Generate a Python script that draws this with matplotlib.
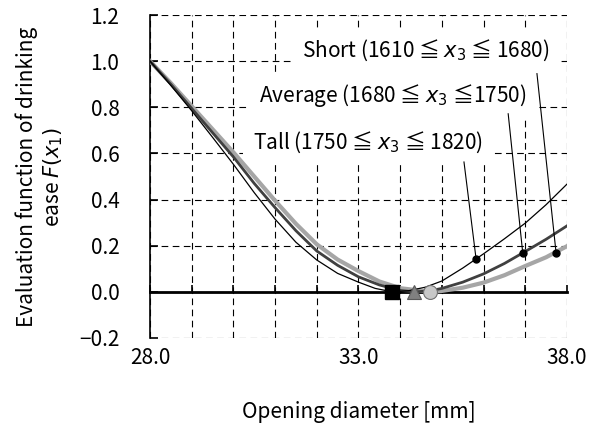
import numpy as np
import matplotlib
matplotlib.use("Agg")
import matplotlib.pyplot as plt
from matplotlib.ticker import MultipleLocator, FixedLocator, FuncFormatter

plt.rcParams['font.family'] = ['Noto Sans CJK JP', 'DejaVu Sans']

# curves (opening diameter [mm] -> F(x1))
x_tall = [28.0, 28.5, 29.0, 29.5, 30.0, 30.5, 31.0, 31.5, 32.0, 32.5, 33.0, 33.4, 33.81,
          34.2, 34.6, 35.0, 35.5, 36.0, 36.5, 37.0, 37.5, 38.0]
f_tall = [1.0, 0.895, 0.785, 0.67, 0.553, 0.43, 0.315, 0.215, 0.138, 0.08, 0.042, 0.015, 0.0,
          0.005, 0.02, 0.047, 0.103, 0.165, 0.23, 0.298, 0.378, 0.467]

x_avg = [28.0, 28.5, 29.0, 29.5, 30.0, 30.5, 31.0, 31.5, 32.0, 32.5, 33.0, 33.5, 34.0, 34.34,
         34.7, 35.0, 35.5, 36.0, 36.5, 37.0, 37.5, 38.0]
f_avg = [1.0, 0.90, 0.795, 0.69, 0.585, 0.47, 0.365, 0.265, 0.177, 0.115, 0.065, 0.03, 0.006, 0.0,
         0.004, 0.015, 0.042, 0.078, 0.123, 0.175, 0.228, 0.286]

x_short = [28.0, 28.5, 29.0, 29.5, 30.0, 30.5, 31.0, 31.5, 32.0, 32.5, 33.0, 33.5, 34.0, 34.72,
           35.0, 35.5, 36.0, 36.5, 37.0, 37.5, 38.0]
f_short = [1.0, 0.905, 0.805, 0.705, 0.605, 0.5, 0.395, 0.295, 0.206, 0.14, 0.09, 0.045, 0.016, 0.0,
           0.004, 0.018, 0.04, 0.072, 0.112, 0.15, 0.198]

# optimum diameters (markers on the axis)
opt_tall, opt_avg, opt_short = 33.81, 34.34, 34.72

# points the labels point to
dot_x = [35.82, 36.94, 37.74]
dot_y = [0.143, 0.167, 0.167]

labels = ["Tall (1750 ≦ $x_3$ ≦ 1820)",
          "Average (1680 ≦ $x_3$ ≦1750)",
          "Short (1610 ≦ $x_3$ ≦ 1680)"]
label_pos = [(30.47, 0.65), (30.61, 0.85), (31.64, 1.046)]
leader_start = [(35.53, 0.563), (36.59, 0.772), (37.28, 0.946)]

x_ticks = [28, 33, 38]

fig = plt.figure(figsize=(5.96, 4.30), dpi=100)
ax = fig.add_axes([0.2517, 0.214, 0.6996, 0.751])

ax.plot(x_short, f_short, color="#a6a6a6", lw=3.0, zorder=3)
ax.plot(x_avg, f_avg, color="#404040", lw=2.0, zorder=4)
ax.plot(x_tall, f_tall, color="black", lw=0.9, zorder=5)

ax.plot([opt_tall], [0], marker="s", ms=10, color="black", zorder=7, clip_on=False)
ax.plot([opt_avg], [0], marker="^", ms=10.5, mfc="#808080", mec="#5a5a5a", mew=0.8, zorder=7)
ax.plot([opt_short], [0], marker="o", ms=10, mfc="#c8c8c8", mec="#707070", mew=0.8, zorder=7)

ax.plot(dot_x, dot_y, "o", color="black", ms=5, zorder=8)
for (tx, ty), (sx, sy), px, py, lab in zip(label_pos, leader_start, dot_x, dot_y, labels):
    ax.text(tx, ty, lab, ha="left", va="center", fontsize=15, zorder=2.8,
            bbox=dict(facecolor="white", edgecolor="none", pad=7))
    ax.plot([sx, px], [sy, py], color="black", lw=0.8, zorder=6)

ax.set_xlim(28, 38)
ax.set_ylim(-0.2, 1.2)
ax.xaxis.set_major_locator(FixedLocator(x_ticks))
ax.xaxis.set_minor_locator(MultipleLocator(1))
ax.yaxis.set_major_locator(MultipleLocator(0.2))
fmt = FuncFormatter(lambda v, p: f"{v:.1f}".replace("-", "\u2212"))
ax.xaxis.set_major_formatter(fmt)
ax.yaxis.set_major_formatter(fmt)

grid_kw = dict(color="black", lw=0.8, linestyle=(0, (6, 4)))
ax.grid(True, axis="x", which="minor", **grid_kw)
ax.grid(True, axis="x", which="major", **grid_kw)
ax.grid(True, axis="y", which="major", **grid_kw)
ax.set_axisbelow(True)

for s in ["top", "right"]:
    ax.spines[s].set_visible(False)
ax.spines["bottom"].set_position(("data", 0))
ax.spines["bottom"].set_linewidth(2.0)
ax.spines["bottom"].set_zorder(2.9)
ax.spines["left"].set_linewidth(1.2)

ax.tick_params(axis="x", which="both", direction="in", length=5, width=1.2, pad=40, labelsize=15)
ax.tick_params(axis="y", direction="in", length=5.5, width=1.2, pad=22, labelsize=15)

ax.set_xlabel("Opening diameter [mm]", fontsize=15)
ax.set_ylabel("Evaluation function of drinking\nease $F(x_1)$", fontsize=15, linespacing=1.15)
ax.xaxis.set_label_coords(0.5, -0.195)
ax.yaxis.set_label_coords(-0.205, 0.5)

fig.savefig("out.png", dpi=100)
